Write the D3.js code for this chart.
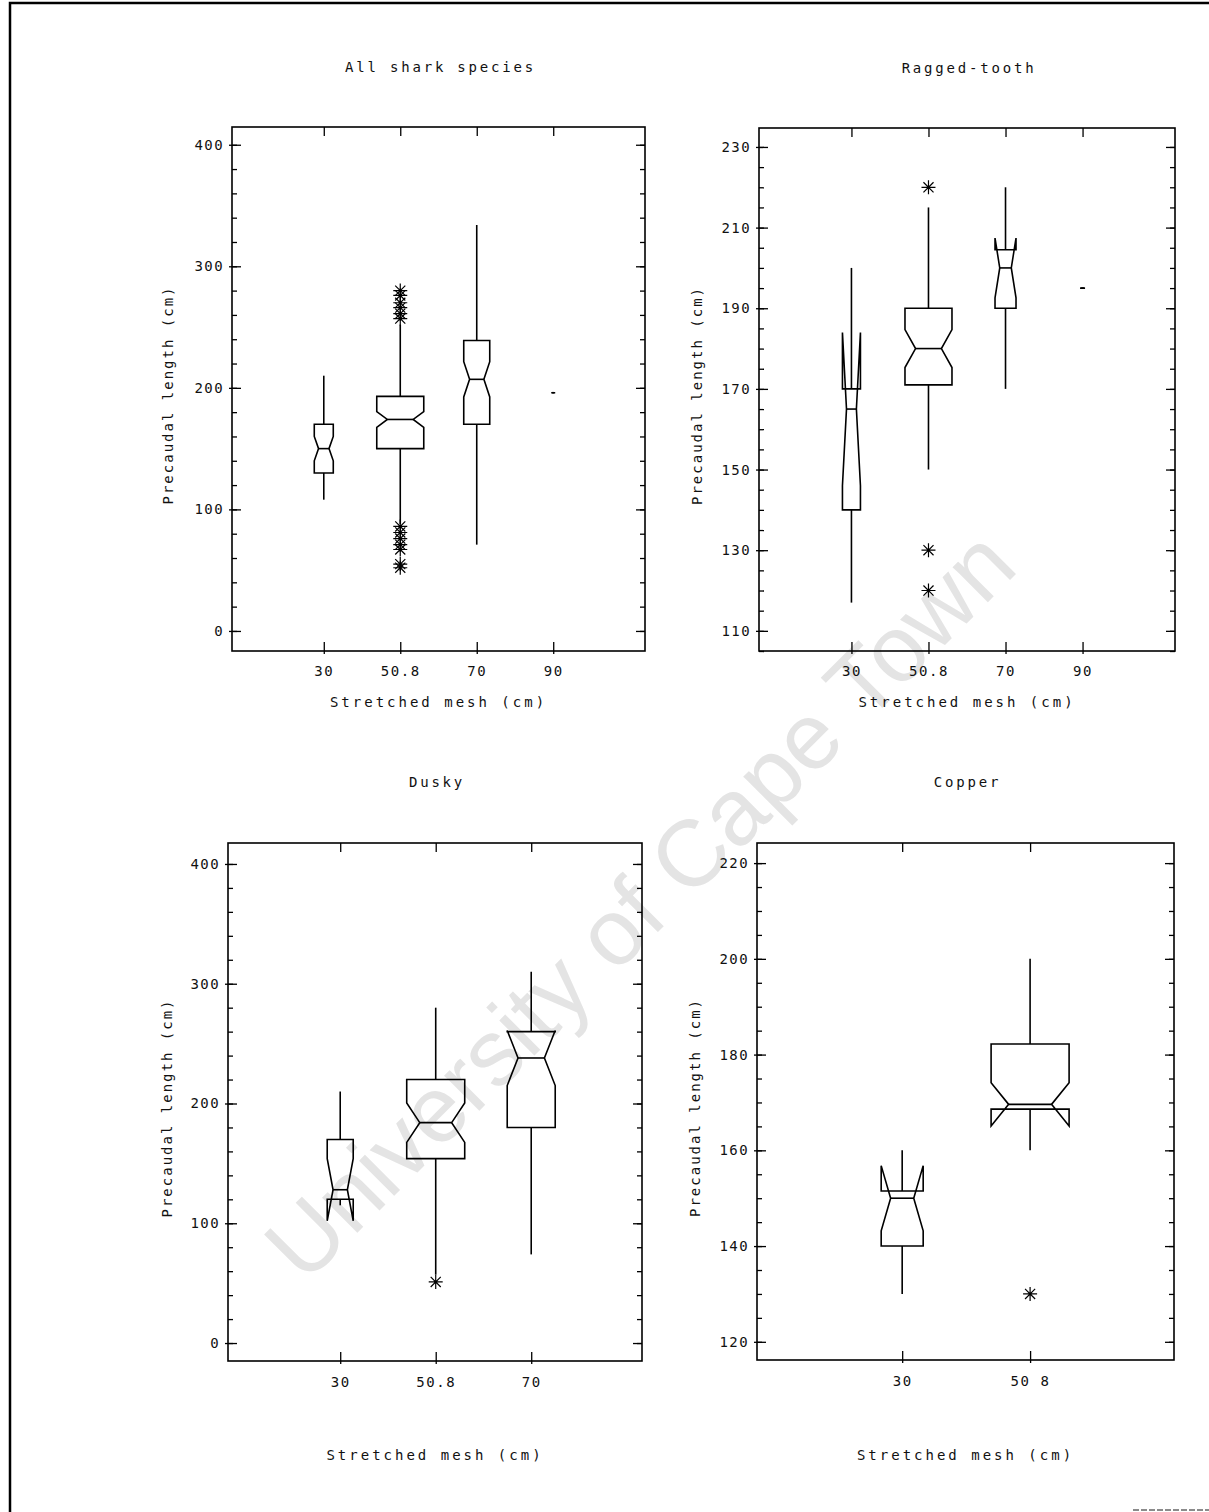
<!DOCTYPE html>
<meta charset="utf-8">
<style>
body { margin: 0; background: #fff; }
text { fill: #111; }
.frame { fill: none; stroke: #000; stroke-width: 1.6px; }
.box { fill: none; stroke: #000; stroke-width: 1.6px; stroke-linejoin: miter; }
.whisker { stroke: #000; stroke-width: 1.6px; }
.star { stroke: #000; stroke-width: 1.2px; fill: none; }
.axis path.domain { display: none; }
.axis line { stroke: #000; stroke-width: 1.3px; }
.lbl { font-family: "DejaVu Sans Mono", "Liberation Mono", monospace; font-size: 14px; }
.watermark { font-family: "Liberation Sans", Arial, sans-serif; font-size: 94px; fill: #e4e4e4; }
</style>
<svg width="1209" height="1512"></svg>
<script src="https://cdn.jsdelivr.net/npm/d3@7"></script>
<script>

// ---- data ----
// mesh positions are plotted at 50 but labelled 50.8 on the original
var allMesh = [30, 50, 70, 90];
var allTickLabels = ["30", "50.8", "70", "90"];
var allLowW = [108, 88, 71, 196];
var allQ1   = [130, 150, 170, 196];
var allMed  = [150, 174, 207, 196];
var allQ3   = [170, 193, 239, 196];
var allHigh = [210, 252, 334, 196];
var allNotch = [10, 6.5, 14.5, 0];
var allOutliers = [[50, 280], [50, 276], [50, 270], [50, 266], [50, 261], [50, 257],
                   [50, 86], [50, 81], [50, 76], [50, 71], [50, 67], [50, 55], [50, 52]];

var raggedMesh = [30, 50, 70, 90];
var raggedTickLabels = ["30", "50.8", "70", "90"];
var raggedLowW = [117, 150, 170, 195];
var raggedQ1   = [140, 171, 190, 195];
var raggedMed  = [165, 180, 200, 195];
var raggedQ3   = [170, 190, 204.5, 195];
var raggedHigh = [200, 215, 220, 195];
var raggedNotch = [19, 4.7, 7.4, 0];
var raggedOutliers = [[50, 220], [50, 130], [50, 120]];

var duskyMesh = [30, 50, 70];
var duskyTickLabels = ["30", "50.8", "70"];
var duskyLowW = [115, 57, 74];
var duskyQ1   = [120, 154, 180];
var duskyMed  = [128, 184, 238];
var duskyQ3   = [170, 220, 260];
var duskyHigh = [210, 280, 310];
var duskyNotch = [26, 16.5, 23];
var duskyOutliers = [[50, 51]];

var copperMesh = [30, 50];
var copperTickLabels = ["30", "50 8"];
var copperLowW = [130, 160];
var copperQ1   = [140, 168.6];
var copperMed  = [150, 169.6];
var copperQ3   = [151.5, 182.2];
var copperHigh = [160, 200];
var copperNotch = [6.8, 4.5];
var copperOutliers = [[50, 130]];

var bigTicks = [0, 100, 200, 300, 400];
var bigMinor = d3.range(0, 420, 20);
var raggedTicks = [110, 130, 150, 170, 190, 210, 230];
var raggedMinor = d3.range(105, 235, 5);
var copperTicks = [120, 140, 160, 180, 200, 220];
var copperMinor = d3.range(120, 225, 5);

// ---- layout ----
var svg = d3.select("svg");

svg.append("text")
    .attr("class", "watermark")
    .attr("text-anchor", "middle")
    .attr("dominant-baseline", "middle")
    .attr("transform", "translate(645,910) rotate(-45)")
    .text("University of Cape Town");

// scanned page edge
svg.append("path").attr("d", "M10,1512V3H1209").attr("fill", "none").attr("stroke", "#000").attr("stroke-width", 2.5);
svg.append("path").attr("d", "M1133,1510H1209").attr("stroke", "#666").attr("stroke-width", 1.5).attr("stroke-dasharray", "6,2");

var panels = [
  { title: "All shark species", left: 232, top: 127, width: 413, height: 524,
    xDomain: [6, 114], yDomain: [-16.5, 414.6], mesh: allMesh, labels: allTickLabels,
    low: allLowW, q1: allQ1, med: allMed, q3: allQ3, high: allHigh, notch: allNotch,
    outliers: allOutliers, ticks: bigTicks, minor: bigMinor, boxW: [19, 47, 26, 4],
    titleY: 72, tickPad: 15, xLabelY: 707, yLabelX: 173 },
  { title: "Ragged-tooth", left: 759, top: 128, width: 416, height: 523,
    xDomain: [6, 114], yDomain: [105, 234.7], mesh: raggedMesh, labels: raggedTickLabels,
    low: raggedLowW, q1: raggedQ1, med: raggedMed, q3: raggedQ3, high: raggedHigh, notch: raggedNotch,
    outliers: raggedOutliers, ticks: raggedTicks, minor: raggedMinor, boxW: [18, 47, 21, 5],
    titleY: 73, tickPad: 15, xLabelY: 707, yLabelX: 702 },
  { title: "Dusky", left: 228, top: 843, width: 414, height: 518,
    xDomain: [6.5, 93.2], yDomain: [-15, 417.5], mesh: duskyMesh, labels: duskyTickLabels,
    low: duskyLowW, q1: duskyQ1, med: duskyMed, q3: duskyQ3, high: duskyHigh, notch: duskyNotch,
    outliers: duskyOutliers, ticks: bigTicks, minor: bigMinor, boxW: [26, 58, 48],
    titleY: 787, tickPad: 16, xLabelY: 1460, yLabelX: 172 },
  { title: "Copper", left: 757, top: 843, width: 417, height: 517,
    xDomain: [7.3, 72.5], yDomain: [116.2, 224.2], mesh: copperMesh, labels: copperTickLabels,
    low: copperLowW, q1: copperQ1, med: copperMed, q3: copperQ3, high: copperHigh, notch: copperNotch,
    outliers: copperOutliers, ticks: copperTicks, minor: copperMinor, boxW: [42, 78],
    titleY: 787, tickPad: 16, xLabelY: 1460, yLabelX: 700 }
];

panels.forEach(drawPanel);

function drawPanel(p) {
  var x = d3.scaleLinear().domain(p.xDomain).range([p.left, p.left + p.width]);
  var y = d3.scaleLinear().domain(p.yDomain).range([p.top + p.height, p.top]);
  var right = p.left + p.width, bottom = p.top + p.height;
  var g = svg.append("g");

  var minor = p.minor.filter(function(v) { return v >= p.yDomain[0] && v <= p.yDomain[1]; });

  // inward ticks all round
  g.append("g").attr("class", "axis").attr("transform", "translate(" + p.left + ",0)")
      .call(d3.axisLeft(y).tickValues(minor).tickSize(-5).tickFormat(""));
  g.append("g").attr("class", "axis").attr("transform", "translate(" + right + ",0)")
      .call(d3.axisRight(y).tickValues(minor).tickSize(-5).tickFormat(""));
  g.append("g").attr("class", "axis").attr("transform", "translate(" + right + ",0)")
      .call(d3.axisRight(y).tickValues(p.ticks).tickSize(-9).tickFormat(""));
  var yAx = g.append("g").attr("class", "axis").attr("transform", "translate(" + p.left + ",0)")
      .call(d3.axisLeft(y).tickValues(p.ticks).tickSize(-9).tickPadding(8).tickFormat(d3.format("d")));
  yAx.attr("font-family", null).attr("font-size", null);
  yAx.selectAll("text").attr("class", "lbl").attr("fill", "#111").style("letter-spacing", "1.4px");
  yAx.selectAll(".tick line").clone().attr("x2", -3);

  var xAx = g.append("g").attr("class", "axis").attr("transform", "translate(0," + bottom + ")")
      .call(d3.axisBottom(x).tickValues(p.mesh).tickSize(-9).tickPadding(p.tickPad)
        .tickFormat(function(d, i) { return p.labels[i]; }));
  xAx.attr("font-family", null).attr("font-size", null);
  xAx.selectAll("text").attr("class", "lbl").attr("fill", "#111").style("letter-spacing", "1.6px");
  xAx.selectAll(".tick line").clone().attr("y2", 3);
  g.append("g").attr("class", "axis").attr("transform", "translate(0," + p.top + ")")
      .call(d3.axisTop(x).tickValues(p.mesh).tickSize(-9).tickFormat(""));

  g.append("rect").attr("class", "frame")
      .attr("x", p.left).attr("y", p.top).attr("width", p.width).attr("height", p.height);

  // whiskers
  p.mesh.forEach(function(m, i) {
    g.append("line").attr("class", "whisker")
        .attr("x1", x(m)).attr("x2", x(m)).attr("y1", y(p.q3[i])).attr("y2", y(p.high[i]));
    g.append("line").attr("class", "whisker")
        .attr("x1", x(m)).attr("x2", x(m)).attr("y1", y(p.q1[i])).attr("y2", y(p.low[i]));
  });

  // notched boxes (notch may fold past the hinges, as in the original)
  var line = d3.line();
  p.mesh.forEach(function(m, i) {
    var cx = x(m), hw = p.boxW[i] / 2, iw = hw * 0.55;
    var up = y(p.med[i] + p.notch[i]), dn = y(p.med[i] - p.notch[i]), md = y(p.med[i]);
    var pts = [
      [cx - hw, y(p.q3[i])], [cx + hw, y(p.q3[i])], [cx + hw, up], [cx + iw, md], [cx + hw, dn],
      [cx + hw, y(p.q1[i])], [cx - hw, y(p.q1[i])], [cx - hw, dn], [cx - iw, md], [cx - hw, up]
    ];
    g.append("path").attr("class", "box").attr("d", line(pts) + "Z");
    g.append("path").attr("class", "box").attr("d", line([[cx - iw, md], [cx + iw, md]]));
  });

  // outliers as asterisks
  g.selectAll(".star").data(p.outliers).enter().append("path")
      .attr("class", "star")
      .attr("d", function(d) {
        var cx = x(d[0]), cy = y(d[1]), r = 7, s = r * 0.72, pth = d3.path();
        pth.moveTo(cx - r, cy); pth.lineTo(cx + r, cy);
        pth.moveTo(cx, cy - r); pth.lineTo(cx, cy + r);
        pth.moveTo(cx - s, cy - s); pth.lineTo(cx + s, cy + s);
        pth.moveTo(cx - s, cy + s); pth.lineTo(cx + s, cy - s);
        return pth.toString();
      });

  var cxMid = p.left + p.width / 2;
  g.append("text").attr("class", "lbl").attr("x", cxMid + 2).attr("y", p.titleY)
      .attr("text-anchor", "middle").style("letter-spacing", "2.8px").text(p.title);
  g.append("text").attr("class", "lbl").attr("x", cxMid).attr("y", p.xLabelY)
      .attr("text-anchor", "middle").style("letter-spacing", "3px").text("Stretched mesh (cm)");
  g.append("text").attr("class", "lbl")
      .attr("transform", "translate(" + p.yLabelX + "," + (p.top + p.height / 2 + 6) + ") rotate(-90)")
      .attr("text-anchor", "middle").style("letter-spacing", "2px").text("Precaudal length (cm)");
}

</script>
